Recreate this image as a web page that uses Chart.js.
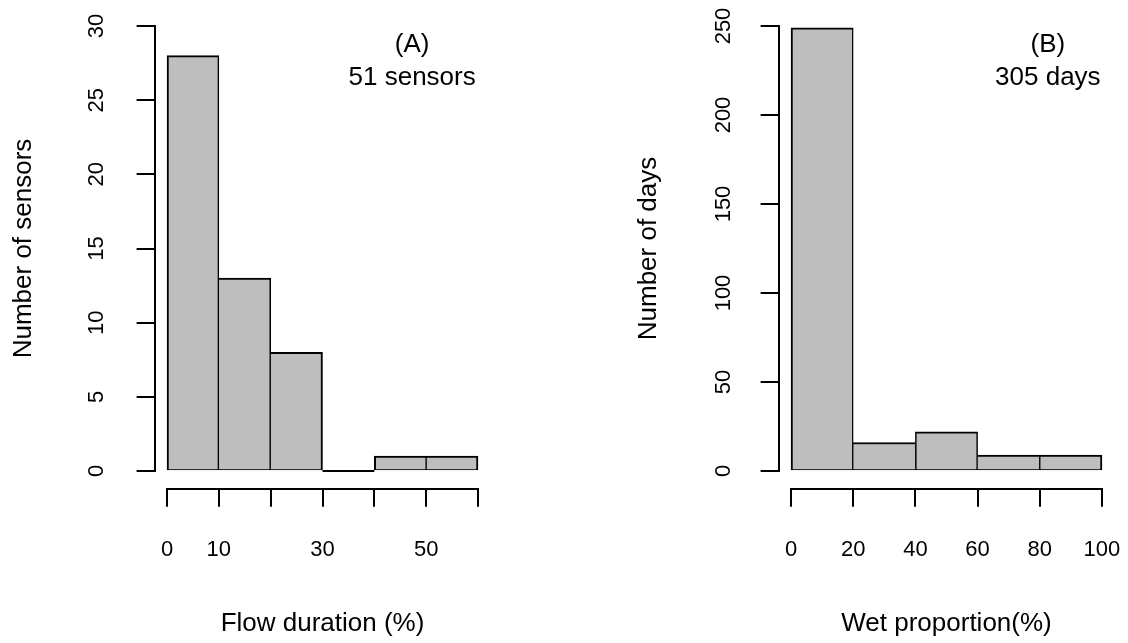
<!DOCTYPE html>
<html>
<head>
<meta charset="utf-8">
<title>Flow duration and wet proportion histograms</title>
<script src="https://cdn.jsdelivr.net/npm/chart.js@4/dist/chart.umd.min.js"></script>
<style>
    html, body { margin: 0; padding: 0; background: #fff; }
    #wrap { display: flex; width: 1128px; height: 643px; }
    canvas { display: block; }
</style>
</head>
<body>
<div id="wrap">
    <canvas id="chartA" width="564" height="643"></canvas>
    <canvas id="chartB" width="564" height="643"></canvas>
</div>
<script>
// ---- DATA: panel A (flow duration per sensor) ----
const binCentersA = [5, 15, 25, 35, 45, 55];
const countsA = [28, 13, 8, 0, 1, 1];
const xTicksA = [0, 10, 20, 30, 40, 50, 60];
const xTickLabelsA = ["0", "10", "", "30", "", "50", ""];
const yTicksA = [0, 5, 10, 15, 20, 25, 30];
const noteA = ["(A)", "51 sensors"];

// ---- DATA: panel B (wet proportion per day) ----
const binCentersB = [10, 30, 50, 70, 90];
const countsB = [249, 16, 22, 9, 9];
const xTicksB = [0, 20, 40, 60, 80, 100];
const xTickLabelsB = ["0", "20", "40", "60", "80", "100"];
const yTicksB = [0, 50, 100, 150, 200, 250];
const noteB = ["(B)", "305 days"];

Chart.defaults.font.family = "'Liberation Sans', Arial, sans-serif";
Chart.defaults.color = "#000";

// R-style axis lines (only from first to last tick), empty bins and the corner note
const rStylePlugin = {
    id: "rStyle",
    afterDraw(chart, args, opts) {
        const ctx = chart.ctx;
        const xs = chart.scales.x;
        const ys = chart.scales.y;
        const area = chart.chartArea;
        ctx.save();
        ctx.strokeStyle = "#000";
        ctx.lineWidth = 2;
        ctx.lineCap = "square";

        // x axis
        const xb = Math.round(area.bottom);
        ctx.beginPath();
        ctx.moveTo(Math.round(xs.getPixelForValue(xs.ticks[0].value)), xb);
        ctx.lineTo(Math.round(xs.getPixelForValue(xs.ticks[xs.ticks.length - 1].value)), xb);
        ctx.stroke();

        // y axis
        const yl = Math.round(area.left);
        ctx.beginPath();
        ctx.moveTo(yl, Math.round(ys.getPixelForValue(ys.ticks[0].value)));
        ctx.lineTo(yl, Math.round(ys.getPixelForValue(ys.ticks[ys.ticks.length - 1].value)));
        ctx.stroke();

        // empty bins: R still draws their flat outline on the baseline
        const half = (opts.centers[1] - opts.centers[0]) / 2;
        const y0 = ys.getPixelForValue(0);
        ctx.lineCap = "butt";
        opts.counts.forEach((n, i) => {
            if (n !== 0) return;
            ctx.beginPath();
            ctx.moveTo(xs.getPixelForValue(opts.centers[i] - half), y0);
            ctx.lineTo(xs.getPixelForValue(opts.centers[i] + half), y0);
            ctx.stroke();
        });

        // note text
        ctx.fillStyle = "#000";
        ctx.font = "26px 'Liberation Sans', Arial, sans-serif";
        ctx.textAlign = "center";
        ctx.textBaseline = "middle";
        const nx = xs.getPixelForValue(opts.x);
        const ny = ys.getPixelForValue(opts.y);
        opts.lines.forEach((line, i) => ctx.fillText(line, nx, ny + i * 33));
        ctx.restore();
    }
};

// border widths so shared bar edges look like one line
function edgeWidths(counts) {
    return (c) => {
        const i = c.dataIndex;
        const prev = i === 0 ? -1 : counts[i - 1];
        const next = i === counts.length - 1 ? -1 : counts[i + 1];
        const side = (n) => {
            if (n <= 0) return 2;
            if (n < counts[i]) return 1.5;
            if (n > counts[i]) return 0.5;
            return 1;
        };
        return { top: 2, bottom: 1, left: side(prev), right: side(next) };
    };
}

function makeHist(canvasId, cfg) {
    const xr = cfg.xTicks[cfg.xTicks.length - 1] - cfg.xTicks[0];
    const yr = cfg.yTicks[cfg.yTicks.length - 1] - cfg.yTicks[0];
    return new Chart(document.getElementById(canvasId), {
        type: "bar",
        data: {
            datasets: [{
                data: cfg.centers.map((c, i) => ({ x: c, y: cfg.counts[i] })),
                backgroundColor: "#bebebe",
                borderColor: "#000",
                borderWidth: edgeWidths(cfg.counts),
                borderSkipped: false,
                barPercentage: 1,
                categoryPercentage: 1
            }]
        },
        options: {
            responsive: false,
            devicePixelRatio: 1,
            animation: false,
            layout: {
                autoPadding: false,
                padding: { top: 8.2, right: cfg.padRight, bottom: 0, left: 0 }
            },
            plugins: {
                legend: { display: false },
                tooltip: { enabled: false },
                rStyle: {
                    lines: cfg.note, x: cfg.noteX, y: cfg.noteY,
                    centers: cfg.centers, counts: cfg.counts
                }
            },
            scales: {
                x: {
                    type: "linear",
                    position: "bottom",
                    offset: false,
                    min: cfg.xTicks[0] - 0.04 * xr,
                    max: cfg.xTicks[cfg.xTicks.length - 1] + 0.04 * xr,
                    afterBuildTicks: (s) => { s.ticks = cfg.xTicks.map(v => ({ value: v })); },
                    afterFit: (s) => {
                        s.height = 154.2;
                        s.paddingLeft = 0; s.paddingRight = 0;
                        s.paddingTop = 0; s.paddingBottom = 0;
                    },
                    border: { display: false },
                    grid: { offset: false, drawOnChartArea: false, tickLength: 18, color: "#000", lineWidth: 2 },
                    ticks: {
                        autoSkip: false,
                        maxRotation: 0,
                        padding: 30,
                        font: { size: 22 },
                        callback: (v, i) => cfg.xLabels[i]
                    },
                    title: {
                        display: true,
                        text: cfg.xTitle,
                        font: { size: 26 },
                        padding: { top: 0, bottom: 4 }
                    }
                },
                y: {
                    type: "linear",
                    position: "left",
                    min: cfg.yTicks[0] - 0.04 * yr,
                    max: cfg.yTicks[cfg.yTicks.length - 1] + 0.04 * yr,
                    afterBuildTicks: (s) => { s.ticks = cfg.yTicks.map(v => ({ value: v })); },
                    afterFit: (s) => {
                        s.width = cfg.yWidth;
                        s.paddingLeft = 0; s.paddingRight = 0;
                        s.paddingTop = 0; s.paddingBottom = 0;
                    },
                    border: { display: false },
                    grid: { drawOnChartArea: false, tickLength: 18, color: "#000", lineWidth: 2 },
                    ticks: {
                        autoSkip: false,
                        minRotation: 90,
                        maxRotation: 90,
                        crossAlign: "center",
                        padding: cfg.yLabelPad,
                        font: { size: 22 },
                        callback: (v) => String(v)
                    },
                    title: {
                        display: true,
                        text: cfg.yTitle,
                        font: { size: 26 },
                        padding: { top: cfg.yTitlePad, bottom: 0 }
                    }
                }
            }
        },
        plugins: [rStylePlugin]
    });
}

// ---- PANEL A ----
makeHist("chartA", {
    centers: binCentersA, counts: countsA,
    xTicks: xTicksA, xLabels: xTickLabelsA, yTicks: yTicksA,
    xTitle: "Flow duration (%)", yTitle: "Number of sensors",
    note: noteA, noteX: 47.3, noteY: 28.7,
    yWidth: 154.6, padRight: 73.6, yLabelPad: 27.4, yTitlePad: 8
});

// ---- PANEL B ----
makeHist("chartB", {
    centers: binCentersB, counts: countsB,
    xTicks: xTicksB, xLabels: xTickLabelsB, yTicks: yTicksB,
    xTitle: "Wet proportion(%)", yTitle: "Number of days",
    note: noteB, noteX: 82.6, noteY: 239.3,
    yWidth: 214.6, padRight: 13.6, yLabelPad: 18.2, yTitlePad: 69.4
});
</script>
</body>
</html>
